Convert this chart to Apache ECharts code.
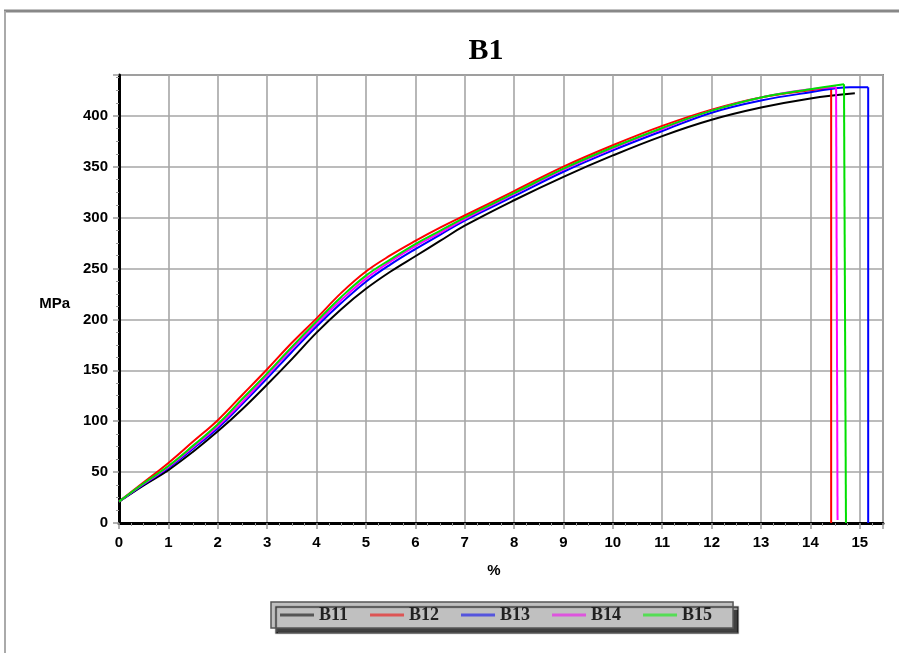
<!DOCTYPE html>
<html>
<head>
<meta charset="utf-8">
<script src="https://cdn.jsdelivr.net/npm/echarts@6/dist/echarts.min.js"></script>
<style>html,body{margin:0;padding:0;background:#fff;}#c{width:899px;height:653px;}</style>
</head>
<body>
<div id="c"></div>
<script>
const seriesNames = ['B11', 'B12', 'B13', 'B14', 'B15'];
const xTickLabels = ['0','1','2','3','4','5','6','7','8','9','10','11','12','13','14','15'];
const yTickLabels = ['0','50','100','150','200','250','300','350','400'];

const strainCommon = [0,0.5,1,1.5,2,2.5,3,3.5,4,4.5,5,5.5,6,6.5,7,8,9,10,11,12,13,14];

// loading curves (strain %, stress MPa)
const strainB11 = strainCommon.concat([14.9]);
const stressB11 = [21,37,52,70,90,112,136,161,187,210,230,247,262,277,292,317,340,361,380,396,408,417,422];

const strainB12 = strainCommon.concat([14.42]);
const stressB12 = [21,40,59,80,101,126,151,177,201,226,247,263,277,290,302,326,350,371,390,406,418,425,427];

const strainB13 = strainCommon.concat([14.8,15.17]);
const stressB13 = [21,38,54,73,93,117,142,168,193,216,237,254,269,283,297,321,345,366,385,403,415,423,428,428];

const strainB14 = strainCommon.concat([14.52]);
const stressB14 = [21,38.5,55,74.5,95,119,145,171,196,219,240,257,272,285,298.5,323,347,368,387,405,418,426,428];

const strainB15 = strainCommon.concat([14.68]);
const stressB15 = [21,39,56,76,97,122,147,173,198,222,243,259,274,287,300,324,348,369,388,405,418,426,431];

// fracture drops (end strain, end stress) after the last loading point
const dropStrain = [null, 14.42, 15.17, 14.55, 14.72];
const dropStress = [null, 0, 0, 3, 0];

const seriesColors = ['#000000','#ff0000','#0000ff','#ff00ff','#00e000'];
const legendColors = ['#555555','#dd5555','#5555dd','#dd55dd','#55dd55'];

const strains = [strainB11, strainB12, strainB13, strainB14, strainB15];
const stresses = [stressB11, stressB12, stressB13, stressB14, stressB15];

const chart = echarts.init(document.getElementById('c'), null, {renderer: 'canvas'});

const series = [];
seriesNames.forEach((name, i) => {
  const pts = strains[i].map((x, j) => [x, stresses[i][j]]);
  series.push({
    name: name,
    type: 'line',
    data: pts,
    showSymbol: false,
    symbol: 'none',
    smooth: 0.4,
    lineStyle: {color: seriesColors[i], width: 2},
    itemStyle: {color: legendColors[i]},
    emphasis: {disabled: true},
    z: 2 + i,
    animation: false
  });
  if (dropStrain[i] !== null) {
    const last = pts[pts.length - 1];
    series.push({
      name: name,
      type: 'line',
      data: [last, [dropStrain[i], dropStress[i]]],
      showSymbol: false,
      symbol: 'none',
      smooth: false,
      lineStyle: {color: seriesColors[i], width: 2},
      itemStyle: {color: legendColors[i]},
      emphasis: {disabled: true},
      z: 2 + i,
      animation: false
    });
  }
});

const labelFont = {color: '#000', fontFamily: 'Liberation Sans, Arial, sans-serif', fontWeight: 'bold', fontSize: 15};

chart.setOption({
  animation: false,
  backgroundColor: '#ffffff',
  title: {
    text: 'B1',
    left: 481,
    textAlign: 'center',
    top: 31,
    textStyle: {fontFamily: 'Liberation Serif, Times New Roman, serif', fontWeight: 'bold', fontSize: 30, color: '#000'}
  },
  graphic: [
    {type: 'line', shape: {x1: 4, y1: 11, x2: 899, y2: 11}, style: {stroke: '#888', lineWidth: 3}, silent: true},
    {type: 'line', shape: {x1: 5, y1: 11, x2: 5, y2: 653}, style: {stroke: '#aaa', lineWidth: 2}, silent: true}
  ],
  grid: {
    left: 119, top: 75, right: 16, bottom: 130,
    show: true, borderColor: '#8a8a8a', borderWidth: 2, backgroundColor: '#fff'
  },
  legend: {
    data: seriesNames,
    left: 271, top: 602,
    padding: [4, 21, 4, 9],
    itemGap: 22,
    itemWidth: 34,
    itemHeight: 3,
    icon: 'rect',
    backgroundColor: '#c0c0c0',
    borderColor: '#555',
    borderWidth: 1.5,
    shadowColor: 'rgba(0,0,0,0.75)',
    shadowBlur: 1,
    shadowOffsetX: 5,
    shadowOffsetY: 5,
    textStyle: {fontFamily: 'Liberation Serif, Times New Roman, serif', fontWeight: 'bold', fontSize: 18, color: '#222'},
    selectedMode: false
  },
  xAxis: {
    type: 'value',
    min: 0, max: 15.47, interval: 1,
    name: '%',
    nameLocation: 'middle',
    nameGap: 40,
    nameTextStyle: Object.assign({}, labelFont, {fontSize: 15, padding: [0, 14, 0, 0]}),
    axisLine: {show: true, lineStyle: {color: '#000', width: 3}},
    axisTick: {show: true, length: 6, lineStyle: {color: '#999', width: 1.5}},
    minorTick: {show: true, splitNumber: 4, length: 3, lineStyle: {color: '#999', width: 1}},
    axisLabel: Object.assign({}, labelFont, {margin: 12, formatter: v => xTickLabels[Math.round(v)] !== undefined && Math.abs(v - Math.round(v)) < 1e-6 ? xTickLabels[Math.round(v)] : ''}),
    splitLine: {show: true, lineStyle: {color: '#a6a6a6', width: 1.6}}
  },
  yAxis: {
    type: 'value',
    min: 0, max: 440, interval: 50,
    name: 'MPa',
    nameLocation: 'middle',
    nameRotate: 0,
    nameGap: 49,
    nameTextStyle: Object.assign({}, labelFont, {fontSize: 15, verticalAlign: 'top', lineHeight: 10}),
    axisLine: {show: true, lineStyle: {color: '#000', width: 3}},
    axisTick: {show: true, length: 6, lineStyle: {color: '#999', width: 1.5}},
    minorTick: {show: true, splitNumber: 4, length: 3, lineStyle: {color: '#999', width: 1}},
    axisLabel: Object.assign({}, labelFont, {margin: 11, formatter: v => yTickLabels[Math.round(v / 50)] || ''}),
    splitLine: {show: true, lineStyle: {color: '#a6a6a6', width: 1.6}}
  },
  series: series
});
</script>
</body>
</html>
